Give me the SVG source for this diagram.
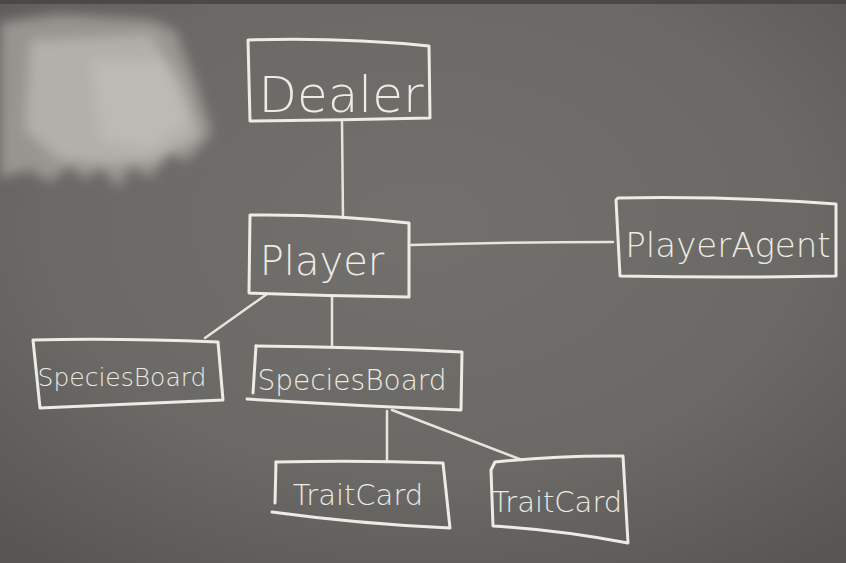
<svg xmlns="http://www.w3.org/2000/svg" width="846" height="563" viewBox="0 0 846 563">
<defs>
<radialGradient id="bg" cx="0.5" cy="0.4" r="0.75">
<stop offset="0" stop-color="#72706c"/>
<stop offset="0.6" stop-color="#6a6966"/>
<stop offset="1" stop-color="#575654"/>
</radialGradient>
<filter id="blur" x="-20%" y="-20%" width="140%" height="140%"><feGaussianBlur stdDeviation="6"/></filter>
<style>
.box{fill:none;stroke:#ecebe4;stroke-width:3;stroke-linecap:round;stroke-linejoin:round}
.edge{fill:none;stroke:#e6e4dd;stroke-width:2.5;stroke-linecap:round}
.lbl{font-family:"DejaVu Sans","Liberation Sans",sans-serif;fill:#ecebe4;text-anchor:middle;font-weight:300}
</style>
</defs>
<rect width="846" height="563" fill="url(#bg)"/>
<rect width="846" height="4" fill="#4a4946"/>
<g id="smudge" filter="url(#blur)">
<path d="M0,22 L60,14 L150,20 L175,30 L195,80 L212,132 L198,150 L185,162 L170,152 L150,178 L130,166 L120,188 L100,168 L85,180 L70,166 L50,182 L30,170 L0,178 Z" fill="#a3a19b" opacity="0.8"/>
<path d="M30,40 L150,35 L180,80 L200,135 L160,160 L110,165 L60,160 L25,130 Z" fill="#b8b6b0" opacity="0.8"/>
<path d="M90,60 L165,60 L190,120 L150,150 L100,140 Z" fill="#c2c0ba" opacity="0.6"/>
</g>
<g id="connectors">
<path class="edge" d="M342,122 L343,218"/>
<path class="edge" d="M411,245 Q510,242 613,242"/>
<path class="edge" d="M267,294 L205,338"/>
<path class="edge" d="M332,297 L332,346"/>
<path class="edge" d="M387,411 L387,462"/>
<path class="edge" d="M392,410 L522,460"/>
</g>
<g id="dealer">
<path class="box" d="M248,40 Q340,37 429,46 L430,118 Q340,120 250,121 L248,40 Z"/>
<text class="lbl" x="341" y="112" font-size="50">Dealer</text>
</g>
<g id="player">
<path class="box" d="M250,215 Q330,214 409,223 L409,297 Q330,296 249,293 L250,215 Z"/>
<text class="lbl" x="322" y="275" font-size="40">Player</text>
</g>
<g id="playeragent">
<path class="box" d="M618,198 Q730,196 836,204 L836,276 Q730,278 620,276 L616,200 Z"/>
<text class="lbl" x="728" y="257" font-size="34">PlayerAgent</text>
</g>
<g id="speciesboard1">
<path class="box" d="M33,340 Q120,338 218,342 L223,400 Q130,404 40,408 L33,340 Z"/>
<text class="lbl" x="122" y="386" font-size="25">SpeciesBoard</text>
</g>
<g id="speciesboard2">
<path class="box" d="M256,346 Q360,347 462,352 L461,410 Q360,406 247,399"/>
<path class="box" d="M256,346 L253,393"/>
<text class="lbl" x="352" y="390" font-size="28">SpeciesBoard</text>
</g>
<g id="traitcard1">
<path class="box" d="M276,462 Q360,460 443,463 L450,528 Q360,524 272,512"/>
<path class="box" d="M276,462 L275,503"/>
<text class="lbl" x="358" y="505" font-size="29">TraitCard</text>
</g>
<g id="traitcard2">
<path class="box" d="M495,462 Q560,455 623,456 L628,543 Q560,530 493,526 L491,470 Z"/>
<text class="lbl" x="557" y="512" font-size="29">TraitCard</text>
</g>
</svg>
